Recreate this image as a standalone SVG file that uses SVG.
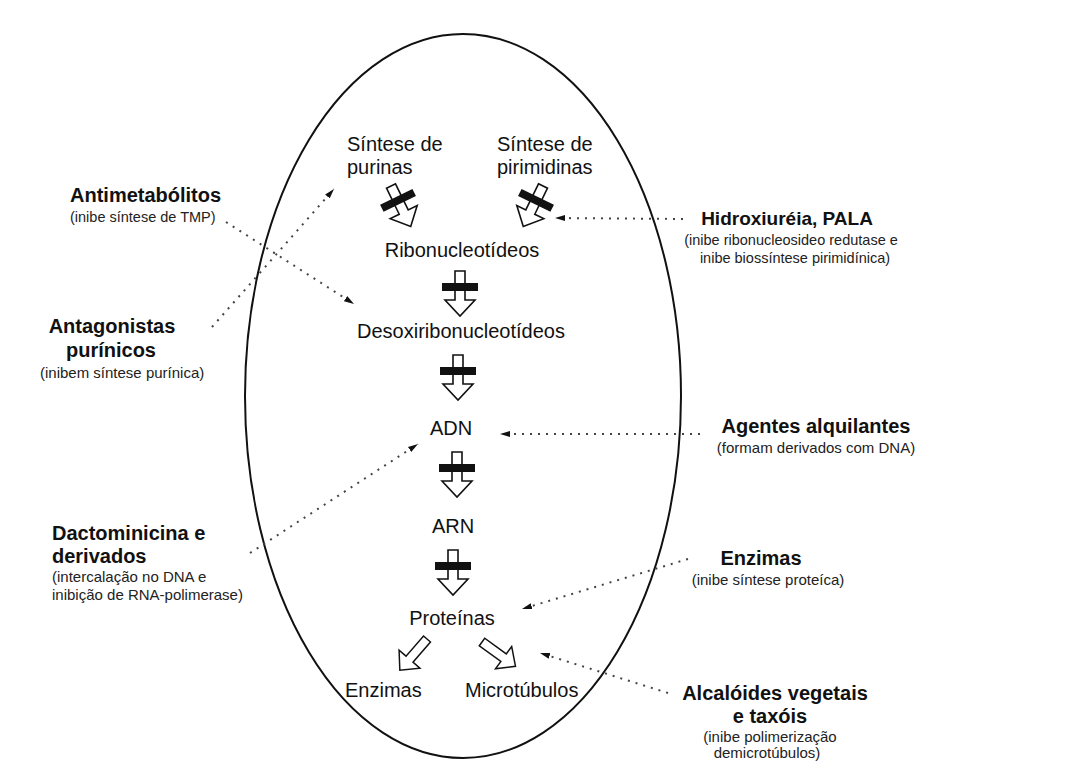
<svg xmlns="http://www.w3.org/2000/svg" width="1086" height="762" viewBox="0 0 1086 762">
<style>
.t{font-family:"Liberation Sans",Arial,sans-serif;font-size:20px;fill:#111}
.b{font-family:"Liberation Sans",Arial,sans-serif;font-size:20px;font-weight:bold;fill:#111}
.s{font-family:"Liberation Sans",Arial,sans-serif;font-size:15px;fill:#222}
.m{text-anchor:middle}
.blk{fill:#fff;stroke:#111;stroke-width:1.6;stroke-linejoin:miter}
.bar{fill:#111}
.dot{fill:none;stroke:#444;stroke-width:2;stroke-dasharray:2 6;marker-end:url(#ah)}
</style>
<defs>
<marker id="ah" viewBox="0 0 10 8" refX="10" refY="4" markerWidth="10" markerHeight="8" markerUnits="userSpaceOnUse" orient="auto">
<path d="M0,1 L10,4 L0,7 Z" fill="#111"/>
</marker>
<path id="blk" class="blk" d="M-5,0 H5 V29 H15 L0,45 L-15,29 H-5 Z"/>
<rect id="bar" class="bar" x="-18" y="12" width="36" height="8"/>
</defs>
<rect width="1086" height="762" fill="#fff"/>
<g id="cell">
<ellipse cx="463" cy="396" rx="218" ry="362" fill="none" stroke="#111" stroke-width="2"/>
</g>
<g id="sintese-purinas">
<text class="t" x="347" y="151">Síntese de</text>
<text class="t" x="347" y="174">purinas</text>
</g>
<g id="sintese-pirimidinas">
<text class="t" x="497" y="151">Síntese de</text>
<text class="t" x="497" y="174">pirimidinas</text>
</g>
<g id="ribonucleotideos"><text class="t m" x="462" y="257">Ribonucleotídeos</text></g>
<g id="desoxiribonucleotideos"><text class="t m" x="461" y="338">Desoxiribonucleotídeos</text></g>
<g id="adn"><text class="t m" x="451" y="435">ADN</text></g>
<g id="arn"><text class="t m" x="453" y="533">ARN</text></g>
<g id="proteinas"><text class="t m" x="452" y="625">Proteínas</text></g>
<g id="enzimas-in"><text class="t" x="345" y="697">Enzimas</text></g>
<g id="microtubulos"><text class="t" x="465" y="697">Microtúbulos</text></g>
<g id="antimetabolitos">
<text class="b" x="70" y="202">Antimetabólitos</text>
<text class="s" x="70" y="222" style="font-size:14.5px">(inibe síntese de TMP)</text>
</g>
<g id="antagonistas">
<text class="b m" x="112" y="333">Antagonistas</text>
<text class="b m" x="111" y="357">purínicos</text>
<text class="s" x="40" y="378">(inibem síntese purínica)</text>
</g>
<g id="dactominicina">
<text class="b" x="52" y="540">Dactominicina e</text>
<text class="b" x="52" y="563">derivados</text>
<text class="s" x="52" y="582">(intercalação no DNA e</text>
<text class="s" x="52" y="600">inibição de RNA-polimerase)</text>
</g>
<g id="hidroxiureia">
<text class="b m" x="787" y="225" style="font-size:19px">Hidroxiuréia, PALA</text>
<text class="s m" x="791" y="245" style="font-size:14.5px">(inibe ribonucleosideo redutase e</text>
<text class="s m" x="795" y="263" style="font-size:14.5px">inibe biossíntese pirimidínica)</text>
</g>
<g id="agentes">
<text class="b m" x="816" y="433">Agentes alquilantes</text>
<text class="s m" x="816" y="453">(formam derivados com DNA)</text>
</g>
<g id="enzimas-ext">
<text class="b m" x="761" y="565">Enzimas</text>
<text class="s m" x="768" y="585">(inibe síntese proteíca)</text>
</g>
<g id="alcaloides">
<text class="b m" x="775" y="700">Alcalóides vegetais</text>
<text class="b m" x="770" y="723">e taxóis</text>
<text class="s m" x="770" y="742">(inibe polimerização</text>
<text class="s m" x="767" y="758">demicrotúbulos)</text>
</g>
<g id="connectors">
<g id="block-arrows">
<g transform="translate(391,186) rotate(-26)"><use href="#blk"/><use href="#bar"/></g>
<g transform="translate(543,186) rotate(26)"><use href="#blk"/><use href="#bar"/></g>
<g transform="translate(460,271)"><use href="#blk"/><use href="#bar"/></g>
<g transform="translate(458,355)"><use href="#blk"/><use href="#bar"/></g>
<g transform="translate(457,452)"><use href="#blk"/><use href="#bar"/></g>
<g transform="translate(453,550)"><use href="#blk"/><use href="#bar"/></g>
<g transform="translate(427,639) rotate(41) scale(0.92)"><use href="#blk"/></g>
<g transform="translate(482,642) rotate(-54) scale(0.92)"><use href="#blk"/></g>
</g>
<g id="dotted">
<line class="dot" x1="226" y1="222" x2="354" y2="304"/>
<line class="dot" x1="212" y1="327" x2="334" y2="189"/>
<line class="dot" x1="250" y1="553" x2="418" y2="444"/>
<line class="dot" x1="683" y1="219" x2="555" y2="218"/>
<line class="dot" x1="700" y1="434" x2="500" y2="434"/>
<line class="dot" x1="688" y1="559" x2="522" y2="609"/>
<line class="dot" x1="668" y1="693" x2="540" y2="653"/>
</g>
</g>
</svg>
